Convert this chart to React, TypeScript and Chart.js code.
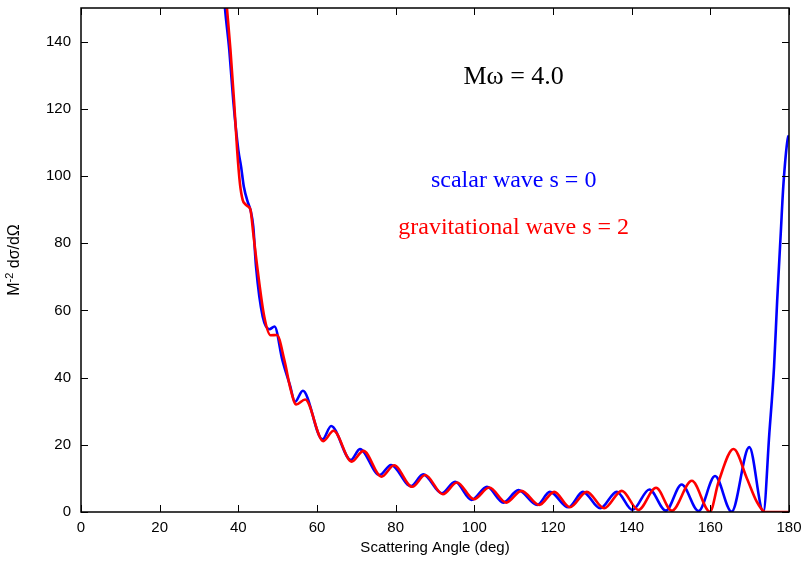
import React, { useEffect, useRef } from 'react';
import { Chart, registerables } from 'chart.js';

Chart.register(...registerables);

// ---- data ----
const xTickValues = [0, 20, 40, 60, 80, 100, 120, 140, 160, 180];
const yTickValues = [0, 20, 40, 60, 80, 100, 120, 140];

const scalarAngles = [
  35.5, 36.6, 37.7, 38.7, 40.0, 40.7, 41.4, 42.5, 43.1, 43.8, 44.5, 46.2, 47.9, 49.2, 51.2, 53.1,
  54.4, 56.4, 61.4, 63.6, 68.6, 70.9, 75.9, 78.8, 83.9, 87.0, 91.7, 95.1, 99.3, 103.2, 107.4,
  111.2, 116.0, 119.2, 123.9, 127.6, 132.0, 136.2, 140.2, 144.5, 148.7, 152.7, 157.0, 161.2,
  165.4, 169.9, 173.5, 175.0, 176.2, 177.0, 177.9, 178.6, 179.8, 180.0,
];
const scalarValues = [
  168, 150, 137.5, 122.6, 107.7, 102.8, 96.8, 91.9, 89.9, 84.9, 73, 58.1, 54.4, 55.2, 45.2, 37.8,
  32.8, 36.1, 21.6, 25.6, 15.5, 18.7, 11.0, 14.0, 7.7, 11.2, 5.6, 9.0, 3.6, 7.5, 2.8,
  6.5, 2.1, 6.0, 1.4, 6.0, 1.1, 6.0, 0.6, 6.7, 0.4, 8.2, 0.3, 10.7,
  0.1, 19.3, 0.0, 23.4, 43.2, 63.1, 82.9, 97.8, 111.7, 112.0,
];

const gravAngles = [
  35.9, 37.1, 38.0, 38.9, 39.7, 40.4, 41.1, 41.7, 42.5, 43.1, 43.8, 44.8, 46.6, 48.2, 49.8, 51.7,
  53.3, 54.7, 57.0, 61.6, 64.2, 68.8, 71.8, 76.4, 79.6, 84.2, 87.5, 92.0, 95.6, 99.9, 103.8,
  108.1, 112.0, 116.5, 120.3, 124.3, 128.6, 133.0, 137.5, 141.7, 146.2, 150.2, 155.3, 159.9,
  162.1, 165.9, 169.3, 171.8, 174.0, 180.0,
];
const gravValues = [
  168, 150, 137.5, 122.6, 107.7, 97.8, 92.9, 91.7, 90.9, 89.9, 82.9, 73, 58.1, 52.6, 52.7, 45.2,
  36.5, 32.0, 33.5, 21.1, 24.2, 15.0, 18.2, 10.5, 13.9, 7.5, 11.0, 5.3, 8.8, 3.8, 7.3,
  2.8, 6.3, 2.1, 6.0, 1.4, 6.0, 1.1, 6.3, 0.6, 7.2, 0.4, 9.3, 0.1,
  9.0, 18.75, 10.0, 3.1, 0.0, 0.0,
];

const seriesLabels = ['scalar wave s = 0', 'gravitational wave s = 2'];
const headline = 'Mω = 4.0';
const xTitle = 'Scattering Angle (deg)';
const yTitleMain = 'M';
const yTitleSup = '-2';
const yTitleRest = ' dσ/dΩ';

const BLUE = '#0000ff';
const RED = '#ff0000';

const toPoints = (xs: number[], ys: number[]) => xs.map((x, i) => ({ x, y: ys[i] }));

const decorPlugin = {
  id: 'decor',
  afterDatasetsDraw(chart: any) {
    const { ctx, chartArea } = chart;
    const xs = chart.scales.x;
    const ys = chart.scales.y;
    ctx.save();
    // frame
    ctx.strokeStyle = '#000';
    ctx.lineWidth = 1.5;
    ctx.strokeRect(chartArea.left, chartArea.top, chartArea.right - chartArea.left, chartArea.bottom - chartArea.top);
    // inward ticks, mirrored
    const tl = 7;
    ctx.lineWidth = 1;
    ctx.beginPath();
    xTickValues.forEach((v) => {
      const px = Math.round(xs.getPixelForValue(v)) + 0.5;
      ctx.moveTo(px, chartArea.bottom);
      ctx.lineTo(px, chartArea.bottom - tl);
      ctx.moveTo(px, chartArea.top);
      ctx.lineTo(px, chartArea.top + tl);
    });
    yTickValues.forEach((v) => {
      const py = Math.round(ys.getPixelForValue(v)) + 0.5;
      ctx.moveTo(chartArea.left, py);
      ctx.lineTo(chartArea.left + tl, py);
      ctx.moveTo(chartArea.right, py);
      ctx.lineTo(chartArea.right - tl, py);
    });
    ctx.stroke();

    // annotations
    const ax = xs.getPixelForValue(110);
    ctx.textAlign = 'center';
    ctx.textBaseline = 'alphabetic';
    ctx.fillStyle = '#000';
    ctx.font = '26px "Liberation Serif", "Times New Roman", serif';
    ctx.fillText(headline, ax, ys.getPixelForValue(127.3));
    ctx.font = '24px "Liberation Serif", "Times New Roman", serif';
    ctx.fillStyle = BLUE;
    ctx.fillText(seriesLabels[0], ax, ys.getPixelForValue(96.8));
    ctx.fillStyle = RED;
    ctx.fillText(seriesLabels[1], ax, ys.getPixelForValue(82.6));

    // y axis title with superscript
    const cy = (chartArea.top + chartArea.bottom) / 2;
    ctx.translate(15, cy);
    ctx.rotate(-Math.PI / 2);
    const mainFont = '16px "Liberation Sans", Arial, sans-serif';
    const supFont = '11px "Liberation Sans", Arial, sans-serif';
    ctx.font = mainFont;
    const w1 = ctx.measureText(yTitleMain).width;
    const w3 = ctx.measureText(yTitleRest).width;
    ctx.font = supFont;
    const w2 = ctx.measureText(yTitleSup).width;
    let x0 = -(w1 + w2 + w3) / 2;
    ctx.fillStyle = '#000';
    ctx.textAlign = 'left';
    ctx.textBaseline = 'middle';
    ctx.font = mainFont;
    ctx.fillText(yTitleMain, x0, 0);
    x0 += w1;
    ctx.font = supFont;
    ctx.fillText(yTitleSup, x0, -5);
    x0 += w2;
    ctx.font = mainFont;
    ctx.fillText(yTitleRest, x0, 0);
    ctx.restore();
  },
};

export default function App() {
  const canvasRef = useRef<HTMLCanvasElement | null>(null);

  useEffect(() => {
    document.body.style.margin = '0';
    const canvas = canvasRef.current;
    if (!canvas) return;
    const tickFont = { family: '"Liberation Sans", Arial, sans-serif', size: 15 };
    const chart = new Chart(canvas, {
      type: 'line',
      data: {
        datasets: [
          {
            label: seriesLabels[1],
            data: toPoints(gravAngles, gravValues),
            borderColor: RED,
            borderWidth: 2.6,
            pointRadius: 0,
            cubicInterpolationMode: 'monotone',
            fill: false,
          },
          {
            label: seriesLabels[0],
            data: toPoints(scalarAngles, scalarValues),
            borderColor: BLUE,
            borderWidth: 2.6,
            pointRadius: 0,
            cubicInterpolationMode: 'monotone',
            fill: false,
          },
        ],
      },
      options: {
        responsive: false,
        animation: false,
        devicePixelRatio: 1,
        layout: { padding: { top: 8, right: 18, bottom: 0, left: 0 } },
        plugins: { legend: { display: false }, tooltip: { enabled: false } },
        scales: {
          x: {
            type: 'linear',
            min: 0,
            max: 180,
            grid: { display: false, drawTicks: false },
            border: { display: false },
            ticks: {
              stepSize: 20,
              includeBounds: false,
              color: '#000',
              font: tickFont,
              padding: 7,
              maxRotation: 0,
            },
            title: {
              display: true,
              text: xTitle,
              color: '#000',
              font: { family: '"Liberation Sans", Arial, sans-serif', size: 15 },
              padding: { top: 0, bottom: 5 },
            },
            afterFit: (scale: any) => {
              scale.height = 50;
              scale.paddingLeft = 0;
              scale.paddingRight = 0;
            },
          },
          y: {
            type: 'linear',
            min: 0,
            max: 150,
            grid: { display: false, drawTicks: false },
            border: { display: false },
            ticks: {
              stepSize: 20,
              includeBounds: false,
              color: '#000',
              font: tickFont,
              padding: 10,
            },
            afterFit: (scale: any) => {
              scale.width = 81;
              scale.paddingTop = 0;
              scale.paddingBottom = 0;
            },
          },
        },
      },
      plugins: [decorPlugin],
    });
    return () => chart.destroy();
  }, []);

  return (
    <div style={{ position: 'absolute', left: 0, top: 0, width: 807, height: 562, background: '#fff' }}>
      <canvas ref={canvasRef} width={807} height={562} />
    </div>
  );
}
